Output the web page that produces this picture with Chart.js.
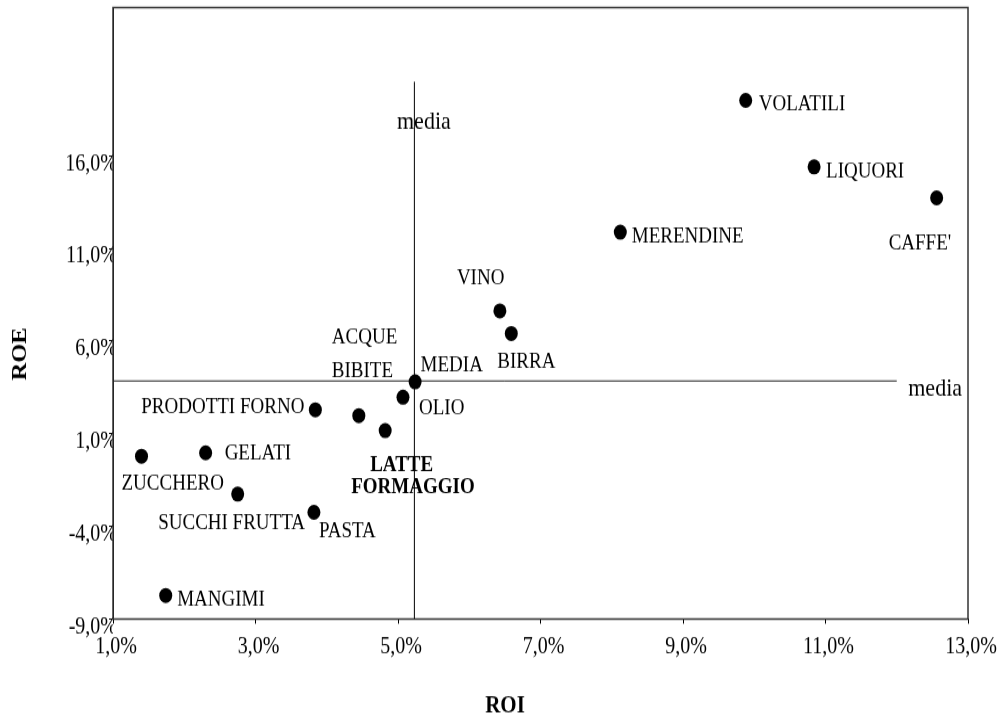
<!DOCTYPE html>
<html lang="it">
<head>
<meta charset="utf-8">
<title>ROI / ROE per settore</title>
<script src="https://cdn.jsdelivr.net/npm/chart.js@4.4.0/dist/chart.umd.min.js"></script>
<style>
  html, body { margin: 0; padding: 0; background: #fff; }
  #pagina { width: 1007px; height: 724px; overflow: hidden; }
  /* il grafico originale era leggermente "stirato" in verticale */
  #wrap { width: 1007px; height: 624px; transform: scaleY(1.1603); transform-origin: 0 0; }
  canvas { display: block; }
</style>
</head>
<body>
<div id="pagina"><div id="wrap"><canvas id="roiRoeChart" width="1007" height="624"></canvas></div></div>
<script>
// --- DATI ---
const settori = ['VOLATILI', 'LIQUORI', "CAFFE'", 'MERENDINE', 'VINO', 'BIRRA', 'MEDIA', 'OLIO',
  'ACQUE BIBITE', 'LATTE FORMAGGIO', 'PRODOTTI FORNO', 'GELATI', 'ZUCCHERO', 'SUCCHI FRUTTA', 'PASTA', 'MANGIMI'];
const roi = [9.88, 10.84, 12.56, 8.12, 6.43, 6.59, 5.24, 5.07, 4.45, 4.82, 3.84, 2.30, 1.40, 2.75, 3.82, 1.74];
const roe = [18.99, 15.40, 13.73, 11.88, 7.63, 6.41, 3.80, 2.97, 1.98, 1.17, 2.29, -0.03, -0.21, -2.26, -3.24, -7.73];

const tickRoi = [1, 3, 5, 7, 9, 11, 13];
const tickRoe = [-9, -4, 1, 6, 11, 16];

// linee della media
const mediaRoi = 5.23;
const mediaRoe = 3.85;
const estensioneVerticale = [-9, 20];   // da ROE -9% a 20%
const estensioneOrizzontale = [1, 12];  // da ROI 1% a 12%

// --- ETICHETTE (spostamento in pixel rispetto al punto) ---
const etichette = {
  'VOLATILI': [{ t: 'VOLATILI', dx: 13, dy: 4 }],
  'LIQUORI': [{ t: 'LIQUORI', dx: 12, dy: 4.5 }],
  "CAFFE'": [{ t: "CAFFE'", dx: -48, dy: 39.5 }],
  'MERENDINE': [{ t: 'MERENDINE', dx: 11.5, dy: 4 }],
  'VINO': [{ t: 'VINO', dx: -43, dy: -27.5 }],
  'BIRRA': [{ t: 'BIRRA', dx: -14, dy: 25 }],
  'MEDIA': [{ t: 'MEDIA', dx: 5.5, dy: -14.5 }],
  'OLIO': [{ t: 'OLIO', dx: 16, dy: 9.5 }],
  'ACQUE BIBITE': [{ t: 'ACQUE', dx: -27, dy: -67.5 }, { t: 'BIBITE', dx: -27, dy: -38 }],
  'LATTE FORMAGGIO': [{ t: 'LATTE', dx: -15, dy: 30, bold: true }, { t: 'FORMAGGIO', dx: -34, dy: 49, bold: true }],
  'PRODOTTI FORNO': [{ t: 'PRODOTTI FORNO', dx: -11, dy: -2, align: 'right' }],
  'GELATI': [{ t: 'GELATI', dx: 19, dy: 0.5 }],
  'ZUCCHERO': [{ t: 'ZUCCHERO', dx: -20, dy: 23.5 }],
  'SUCCHI FRUTTA': [{ t: 'SUCCHI FRUTTA', dx: -79.5, dy: 25 }],
  'PASTA': [{ t: 'PASTA', dx: 5, dy: 17 }],
  'MANGIMI': [{ t: 'MANGIMI', dx: 11.5, dy: 4 }]
};

const FONT = '"Liberation Serif", "Times New Roman", serif';

function formatoPercento(v) {
  return v.toFixed(1).replace('.', ',') + '%';
}

// Cornice, etichette dei punti, "media" e titoli degli assi
const etichettePlugin = {
  id: 'etichette',
  beforeDatasetsDraw(chart) {
    const { ctx, chartArea: a } = chart;
    ctx.save();
    ctx.strokeStyle = '#333';
    ctx.lineWidth = 1.5;
    ctx.strokeRect(a.left, a.top, a.right - a.left, a.bottom - a.top);
    ctx.restore();
  },
  afterDatasetsDraw(chart) {
    const { ctx, scales: { x, y } } = chart;
    ctx.save();
    ctx.fillStyle = '#000';
    ctx.textBaseline = 'middle';

    settori.forEach((nome, i) => {
      const px = x.getPixelForValue(roi[i]);
      const py = y.getPixelForValue(roe[i]);
      (etichette[nome] || []).forEach(e => {
        ctx.font = (e.bold ? 'bold ' : '') + '19px ' + FONT;
        ctx.textAlign = e.align || 'left';
        ctx.fillText(e.t, px + e.dx, py + e.dy);
      });
    });

    ctx.font = '22px ' + FONT;
    ctx.textAlign = 'center';
    ctx.fillText('media', x.getPixelForValue(mediaRoi) + 9.5, y.getPixelForValue(estensioneVerticale[1]) + 35);
    ctx.textAlign = 'left';
    ctx.fillText('media', x.getPixelForValue(estensioneOrizzontale[1]) + 11.5, y.getPixelForValue(mediaRoe) + 7);

    // titoli degli assi
    ctx.font = 'bold 21px ' + FONT;
    ctx.textAlign = 'center';
    ctx.fillText('ROI', 505, 609);
    ctx.translate(21, 305);
    ctx.rotate(-Math.PI / 2);
    ctx.fillText('ROE', 0, 0);
    ctx.restore();
  }
};

const ctx = document.getElementById('roiRoeChart').getContext('2d');

new Chart(ctx, {
  type: 'scatter',
  data: {
    datasets: [
      {
        label: 'Settori',
        data: roi.map((v, i) => ({ x: v, y: roe[i] })),
        backgroundColor: '#000',
        borderWidth: 0,
        pointRadius: 6.5,
        pointHoverRadius: 6.5
      },
      {
        label: 'media ROI',
        data: estensioneVerticale.map(v => ({ x: mediaRoi, y: v })),
        showLine: true,
        borderColor: '#000',
        borderWidth: 1,
        pointRadius: 0
      },
      {
        label: 'media ROE',
        data: estensioneOrizzontale.map(v => ({ x: v, y: mediaRoe })),
        showLine: true,
        borderColor: '#222',
        borderWidth: 1,
        pointRadius: 0
      }
    ]
  },
  options: {
    responsive: false,
    animation: false,
    devicePixelRatio: 1,
    layout: { padding: { top: 5.2, right: 39, left: 0, bottom: 0 } },
    scales: {
      x: {
        type: 'linear',
        min: 1,
        max: 13,
        afterBuildTicks: s => { s.ticks = tickRoi.map(v => ({ value: v })); },
        afterFit: s => { s.height = 90.5; },
        ticks: {
          callback: formatoPercento,
          color: '#000',
          font: { family: FONT, size: 20 },
          padding: 8,
          labelOffset: 3,
          maxRotation: 0,
          autoSkip: false
        },
        grid: { drawOnChartArea: false, tickLength: 4, color: '#000' },
        border: { color: '#000', width: 1 }
      },
      y: {
        type: 'linear',
        min: -9,
        max: 24,
        afterBuildTicks: s => { s.ticks = tickRoe.map(v => ({ value: v })); },
        afterFit: s => { s.width = 113; },
        ticks: {
          callback: formatoPercento,
          color: '#000',
          font: { family: FONT, size: 20 },
          padding: -8,
          labelOffset: 7,
          autoSkip: false
        },
        grid: { drawOnChartArea: false, tickLength: 4, color: '#000' },
        border: { color: '#000', width: 1 }
      }
    },
    plugins: {
      legend: { display: false },
      tooltip: { enabled: false }
    }
  },
  plugins: [etichettePlugin]
});
</script>
</body>
</html>
